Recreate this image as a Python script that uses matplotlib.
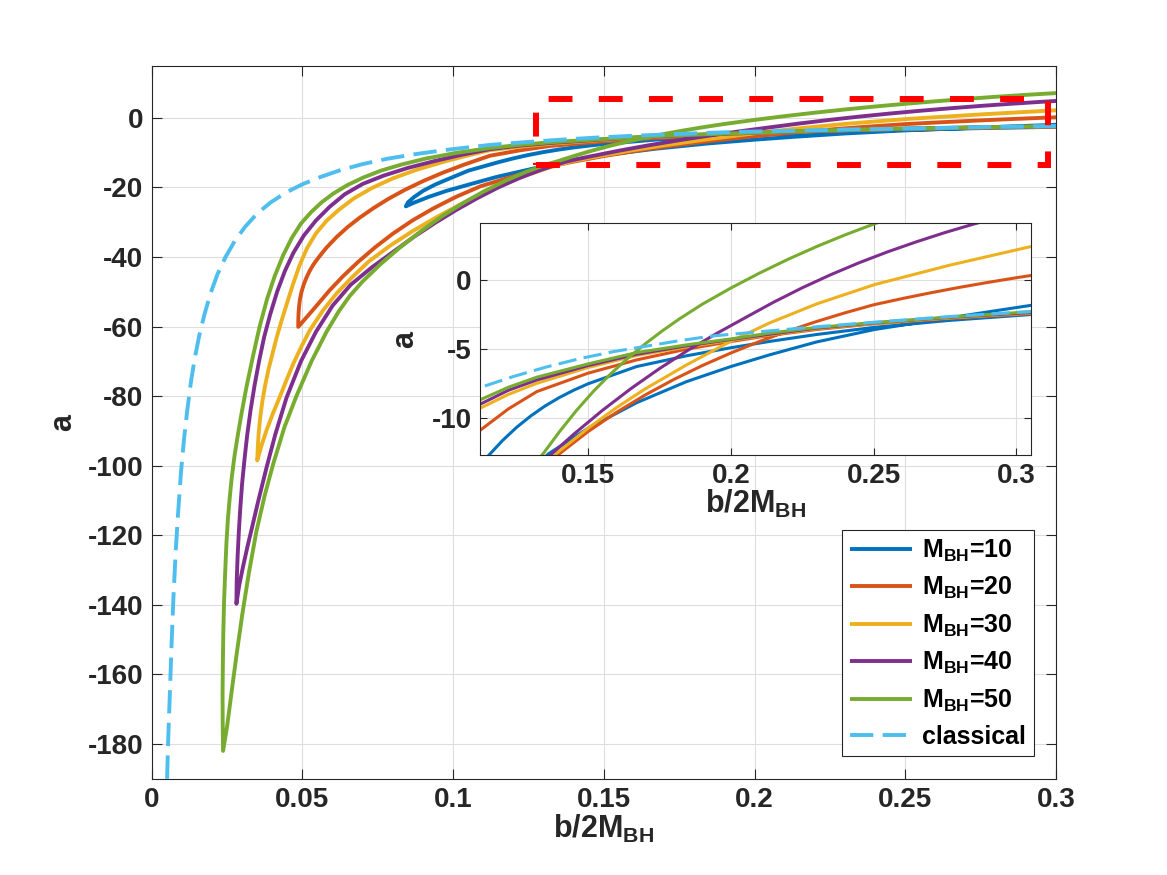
import numpy as np
import matplotlib
matplotlib.use("Agg")
import matplotlib.pyplot as plt
from matplotlib.patches import Rectangle

# ---------------- data ----------------
# classical curve
b_cl = [0.0051, 0.0055, 0.0060, 0.0066, 0.0072, 0.0080, 0.0088, 0.0097, 0.0107, 0.0118,
        0.0130, 0.0143, 0.0158, 0.0175, 0.0195, 0.0218, 0.0245, 0.0275, 0.0310, 0.0350,
        0.0395, 0.0445, 0.0500, 0.0560, 0.0624, 0.0700, 0.0780, 0.0870, 0.0970, 0.1070,
        0.1122, 0.1239, 0.1356, 0.1472, 0.1589, 0.1705, 0.1822, 0.1938, 0.2113, 0.2300,
        0.2503, 0.2765, 0.3060]
a_cl = [-190, -178, -166, -151, -138, -124, -113, -102, -92.5, -84,
        -76, -69, -62.5, -56.5, -50.5, -45, -40, -35.5, -31.3, -27.5,
        -24.3, -21.5, -19.1, -17.0, -15.1, -13.3, -11.8, -10.5, -9.3, -8.3,
        -7.8, -7.0, -6.3, -5.7, -5.2, -4.8, -4.4, -4.06, -3.74, -3.4,
        -3.07, -2.66, -2.28]

# M_BH = 10 : upper / lower branch, both starting at the tip
b_up_10 = [0.0843, 0.0850, 0.0870, 0.0900, 0.0940, 0.0978, 0.1050, 0.1146, 0.1200, 0.1250,
           0.1300, 0.1350, 0.1400, 0.1450, 0.1500, 0.1670, 0.1845, 0.2000, 0.2136, 0.2300,
           0.2503, 0.2765, 0.3060]
a_up_10 = [-25.45, -24.3, -22.8, -21.0, -19.2, -17.8, -15.2, -12.85, -11.65, -10.68,
           -9.85, -9.13, -8.52, -7.99, -7.53, -6.28, -5.5, -4.92, -4.46, -3.96,
           -3.44, -2.94, -2.5]
b_lo_10 = [0.0843, 0.0870, 0.0920, 0.0978, 0.1060, 0.1144, 0.1250, 0.1361, 0.1500, 0.1670,
           0.1845, 0.2000, 0.2136, 0.2300, 0.2503, 0.2765, 0.3060]
a_lo_10 = [-25.45, -24.4, -22.7, -21.0, -19.0, -17.0, -14.9, -12.6, -10.75, -8.9,
           -7.37, -6.28, -5.43, -4.5, -3.6, -2.75, -1.82]

# M_BH = 20
b_up_20 = [0.0486, 0.04863, 0.04872, 0.0489, 0.0492, 0.0497, 0.0504, 0.0513, 0.0524, 0.0537,
           0.0547, 0.0563, 0.0580, 0.0613, 0.0650, 0.0690, 0.0735, 0.0785, 0.0840, 0.0900,
           0.0965, 0.1035, 0.1122, 0.1221, 0.1321, 0.1500, 0.1670, 0.1845, 0.2000, 0.2136,
           0.2300, 0.2503, 0.2765, 0.3060]
a_up_20 = [-60.1, -58.0, -56.0, -54.0, -52.0, -50.0, -48.0, -46.0, -44.0, -42.1,
           -40.9, -39.1, -37.3, -34.3, -31.4, -28.7, -26.0, -23.3, -20.7, -18.2,
           -15.8, -13.5, -10.9, -9.35, -8.09, -6.76, -5.80, -5.02, -4.47, -4.03,
           -3.6, -3.18, -2.8, -2.44]
b_lo_20 = [0.0486, 0.0500, 0.0515, 0.0547, 0.0590, 0.0635, 0.0685, 0.0740, 0.0800, 0.0865,
           0.0935, 0.1010, 0.1090, 0.1170, 0.1250, 0.1325, 0.1402, 0.1500, 0.1600, 0.1700,
           0.1800, 0.1900, 0.2000, 0.2100, 0.2200, 0.2300, 0.2400, 0.2500, 0.2600, 0.2700,
           0.2800, 0.2900, 0.3000, 0.3060]
a_lo_20 = [-60.1, -58.7, -57.2, -54, -49.6, -45.5, -41.4, -37.3, -33.3, -29.5,
           -26.0, -22.7, -19.7, -17.6, -15.5, -13.9, -12.56, -10.99, -9.59, -8.34,
           -7.22, -6.21, -5.30, -4.47, -3.71, -3.02, -2.39, -1.81, -1.36, -0.94,
           -0.55, -0.19, 0.15, 0.34]

# M_BH = 30
b_up_30 = [0.0350, 0.0352, 0.0355, 0.0360, 0.0367, 0.0376, 0.0387, 0.0400, 0.0414, 0.0430,
           0.0448, 0.0468, 0.0490, 0.0515, 0.0545, 0.0580, 0.0620, 0.0670, 0.0730, 0.0800,
           0.0880, 0.0970, 0.1050, 0.1122, 0.1221, 0.1321, 0.1500, 0.1670, 0.1845, 0.2000,
           0.2136, 0.2300, 0.2503, 0.2765, 0.3060]
a_up_30 = [-98.5, -94.5, -90.5, -86, -81.5, -77, -72.5, -68, -63.3, -58.5,
           -53.5, -48, -42.5, -37.5, -33.2, -29.6, -26.5, -23.2, -20.2, -17.4,
           -14.9, -12.6, -10.8, -9.3, -8.3, -7.49, -6.35, -5.48, -4.86, -4.38,
           -3.99, -3.55, -3.15, -2.76, -2.4]
b_lo_30 = [0.0350, 0.0365, 0.0381, 0.0402, 0.0425, 0.0447, 0.0470, 0.0497, 0.0525, 0.0567,
           0.0613, 0.0665, 0.0720, 0.0790, 0.0865, 0.0940, 0.1015, 0.1090, 0.1165, 0.1240,
           0.1315, 0.1390, 0.1500, 0.1600, 0.1700, 0.1845, 0.2000, 0.2136, 0.2300, 0.2503,
           0.2765, 0.3060]
a_lo_30 = [-98.5, -94, -89.8, -85, -80.2, -75.4, -70.6, -65.7, -61, -55.5,
           -50.5, -45.8, -41.3, -36.8, -32.6, -28.8, -25.3, -22.1, -19.2, -16.6,
           -14.4, -12.56, -10.75, -9.25, -7.9, -6.16, -4.45, -3.12, -1.75, -0.35,
           1.05, 2.45]

# M_BH = 40
b_up_40 = [0.0281, 0.0282, 0.0285, 0.0289, 0.0294, 0.0300, 0.0308, 0.0317, 0.0328, 0.0341,
           0.0356, 0.0373, 0.0393, 0.0416, 0.0442, 0.0470, 0.0505, 0.0545, 0.0590, 0.0640,
           0.0700, 0.0770, 0.0850, 0.0940, 0.1030, 0.1122, 0.1221, 0.1321, 0.1500, 0.1670,
           0.1845, 0.2000, 0.2136, 0.2300, 0.2503, 0.2765, 0.3060]
a_up_40 = [-139.7, -133, -126, -119, -112, -105, -98, -91, -84, -77,
           -70, -63, -56.5, -50, -44, -38.8, -33.8, -29.5, -25.6, -22.0,
           -19.0, -16.6, -14.4, -12.4, -10.6, -9.01, -8.0, -7.25, -6.21, -5.39,
           -4.78, -4.32, -3.94, -3.5, -3.12, -2.72, -2.36]
b_lo_40 = [0.0281, 0.0290, 0.0303, 0.0317, 0.0331, 0.0353, 0.0381, 0.0410, 0.0447, 0.0495,
           0.0545, 0.0600, 0.0660, 0.0730, 0.0800, 0.0870, 0.0940, 0.1010, 0.1080, 0.1150,
           0.1220, 0.1290, 0.1373, 0.1450, 0.1550, 0.1650, 0.1750, 0.1850, 0.1950, 0.2050,
           0.2150, 0.2250, 0.2350, 0.2450, 0.2550, 0.2650, 0.2750, 0.2850, 0.2950, 0.3060]
a_lo_40 = [-139.7, -134.5, -129, -123.5, -118.4, -110.3, -100.5, -91, -80.5, -70,
           -61.5, -54, -48, -43, -38.6, -34.2, -30.2, -26.5, -23.1, -20.0,
           -17.3, -15.0, -12.6, -11.18, -9.46, -7.88, -6.43, -5.10, -3.89, -2.75,
           -1.62, -0.58, 0.37, 1.24, 2.03, 2.75, 3.42, 4.03, 4.59, 5.15]

# M_BH = 50
b_up_50 = [0.02367, 0.02355, 0.0235, 0.0236, 0.02375, 0.0240, 0.0244, 0.0248, 0.0253, 0.0259,
           0.0266, 0.0275, 0.0286, 0.0299, 0.0314, 0.0336, 0.0358, 0.0383, 0.0408, 0.0436,
           0.0465, 0.0495, 0.0530, 0.0565, 0.0602, 0.0650, 0.0701, 0.0760, 0.0830, 0.0910,
           0.1010, 0.1122, 0.1221, 0.1321, 0.1500, 0.1670, 0.1845, 0.2000, 0.2136, 0.2300,
           0.2503, 0.2765, 0.3060]
a_up_50 = [-182, -174, -166, -157, -148, -139, -130, -122, -115, -109,
           -103, -97, -91, -84.5, -77.5, -68.5, -60, -52, -45.5, -39.5,
           -34.5, -30.4, -27, -24.2, -21.8, -19.3, -17.2, -15.2, -13.4, -11.7,
           -10.1, -8.69, -7.78, -7.05, -6.09, -5.27, -4.71, -4.28, -3.86, -3.45,
           -3.1, -2.7, -2.3]
b_lo_50 = [0.02367, 0.0250, 0.0265, 0.0282, 0.0300, 0.0322, 0.0347, 0.0375, 0.0403, 0.0440,
           0.0480, 0.0530, 0.0580, 0.0620, 0.0657, 0.0700, 0.0760, 0.0823, 0.0893, 0.0963,
           0.1033, 0.1103, 0.1173, 0.1243, 0.1313, 0.1344, 0.1400, 0.1460, 0.1520, 0.1580,
           0.1640, 0.1700, 0.1760, 0.1820, 0.1900, 0.2000, 0.2100, 0.2200, 0.2300, 0.2400,
           0.2500, 0.2600, 0.2700, 0.2800, 0.2900, 0.3060]
a_lo_50 = [-182, -175, -165, -154, -143, -131, -119, -108.5, -99.5, -89,
           -80, -70, -61.5, -55.7, -51.2, -47, -42, -37.3, -32.6, -28.3,
           -24.5, -21.1, -18.1, -15.5, -13.3, -12.56, -11.0, -9.45, -8.05, -6.8,
           -5.67, -4.64, -3.7, -2.83, -1.77, -0.6, 0.48, 1.48, 2.40, 3.25,
           4.03, 4.75, 5.42, 6.04, 6.6, 7.4]

masses = [10, 20, 30, 40, 50]
branches = {
    10: (b_up_10, a_up_10, b_lo_10, a_lo_10),
    20: (b_up_20, a_up_20, b_lo_20, a_lo_20),
    30: (b_up_30, a_up_30, b_lo_30, a_lo_30),
    40: (b_up_40, a_up_40, b_lo_40, a_lo_40),
    50: (b_up_50, a_up_50, b_lo_50, a_lo_50),
}

# MATLAB default colour order
colors = ['#0072BD', '#D95319', '#EDB120', '#7E2F8E', '#77AC30']
c_classical = '#4DBEEE'

# zoom box in main axes and inset limits
box_x, box_y, box_w, box_h = 0.1274, -13.5, 0.1698, 18.95
inset_xlim = (0.1122, 0.3051)
inset_ylim = (-12.68, 4.11)

# ---------------- style ----------------
plt.rcParams['font.family'] = 'Liberation Sans'
plt.rcParams['font.weight'] = 'bold'
plt.rcParams['axes.labelweight'] = 'bold'
plt.rcParams['axes.unicode_minus'] = False
plt.rcParams['mathtext.fontset'] = 'custom'
plt.rcParams['mathtext.rm'] = 'Liberation Sans:bold'
plt.rcParams['mathtext.bf'] = 'Liberation Sans:bold'
plt.rcParams['mathtext.it'] = 'Liberation Sans:bold'

axc = '#262626'
gridc = '#DEDEDE'


def loop(m):
    bu, au, bl, al = branches[m]
    b = list(bu[::-1]) + list(bl[1:])
    a = list(au[::-1]) + list(al[1:])
    return np.array(b), np.array(a)


def draw_curves(ax, lw):
    handles = []
    for m, c in zip(masses, colors):
        b, a = loop(m)
        h, = ax.plot(b, a, color=c, lw=lw, label=r'$\mathbf{M_{BH}}$=%d' % m,
                     solid_joinstyle='round', solid_capstyle='butt')
        handles.append(h)
    h, = ax.plot(b_cl, a_cl, color=c_classical, lw=lw, linestyle=(0, (6, 2.4)),
                 label='classical', dash_capstyle='butt')
    handles.append(h)
    return handles


def style_axes(ax, ticklen):
    ax.grid(True, color=gridc, lw=0.8, zorder=0)
    ax.set_axisbelow(True)
    for s in ax.spines.values():
        s.set_color(axc)
        s.set_linewidth(0.8)
    ax.tick_params(direction='in', length=ticklen, width=0.8, top=True, right=True,
                   labelsize=20, colors=axc, pad=6)


fig = plt.figure(figsize=(11.67, 8.75), dpi=100)

# ---------------- main axes ----------------
ax = fig.add_axes([0.13, 0.11, 0.775, 0.815])
handles = draw_curves(ax, 2.8)
ax.add_patch(Rectangle((box_x, box_y), box_w, box_h, fill=False, edgecolor='red',
                       lw=4.3, linestyle=(0, (4.0, 4.4)), zorder=5))
ax.set_xlim(0, 0.3)
ax.set_ylim(-190, 15)
ax.set_xticks([0, 0.05, 0.1, 0.15, 0.2, 0.25, 0.3])
ax.set_xticklabels(['0', '0.05', '0.1', '0.15', '0.2', '0.25', '0.3'])
ax.set_yticks(np.arange(-180, 1, 20))
style_axes(ax, 7)
ax.set_xlabel(r'$\mathbf{b/2M_{BH}}$', fontsize=22, color=axc, labelpad=0)
ax.set_ylabel('a', fontsize=22, color=axc, labelpad=7)

leg = ax.legend(handles=handles, loc='lower right', fontsize=18, frameon=True,
                fancybox=False, framealpha=1, edgecolor=axc, handlelength=2.5,
                borderpad=0.3, labelspacing=0.45, handletextpad=0.4,
                borderaxespad=0.9)
leg.get_frame().set_linewidth(0.8)

# ---------------- inset ----------------
ax2 = fig.add_axes([480 / 1167, 1 - 455 / 875, 551 / 1167, 232 / 875])
draw_curves(ax2, 2.2)
ax2.set_xlim(*inset_xlim)
ax2.set_ylim(*inset_ylim)
ax2.set_xticks([0.15, 0.2, 0.25, 0.3])
ax2.set_xticklabels(['0.15', '0.2', '0.25', '0.3'])
ax2.set_yticks([-10, -5, 0])
style_axes(ax2, 5)
ax2.set_xlabel(r'$\mathbf{b/2M_{BH}}$', fontsize=22, color=axc, labelpad=-1)
ax2.set_ylabel('a', fontsize=22, color=axc, labelpad=8)

fig.savefig('out.png', dpi=100, facecolor='white')
